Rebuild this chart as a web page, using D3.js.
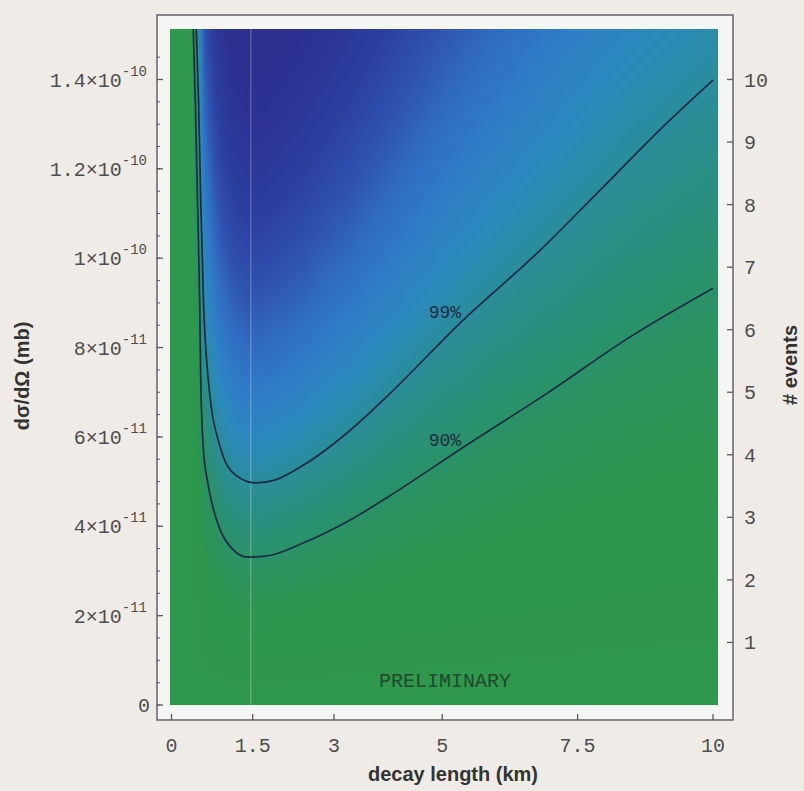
<!DOCTYPE html>
<html>
<head>
<meta charset="utf-8">
<script src="https://cdn.jsdelivr.net/npm/d3@7"></script>
<style>
  body { margin: 0; background: #efece8; }
</style>
</head>
<body>
<div id="chart"></div>
<script>
// 90% CL contour: decay length (km) -> dσ/dΩ (mb)
const cl90Length = [0.40, 0.44, 0.48, 0.52, 0.54, 0.59, 0.66, 0.78, 0.90, 1.14, 1.40, 1.73, 2.44, 3.30, 3.99, 5.39, 6.94, 8.47, 10.0];
const cl90Sigma  = [15.2e-11, 13.5e-11, 11.3e-11, 9.06e-11, 7.27e-11, 5.71e-11, 5.04e-11, 4.36e-11, 3.92e-11, 3.47e-11, 3.31e-11, 3.33e-11, 3.63e-11, 4.14e-11, 4.65e-11, 5.77e-11, 6.98e-11, 8.24e-11, 9.33e-11];

// 99% CL contour
const cl99Length = [0.455, 0.50, 0.54, 0.59, 0.68, 0.90, 1.18, 1.55, 1.92, 2.44, 3.30, 3.99, 5.39, 6.81, 7.92, 9.15, 10.0];
const cl99Sigma  = [15.2e-11, 13.5e-11, 11.3e-11, 9.06e-11, 7.27e-11, 5.77e-11, 5.15e-11, 4.97e-11, 5.04e-11, 5.37e-11, 6.15e-11, 6.92e-11, 8.62e-11, 10.18e-11, 11.53e-11, 13.03e-11, 13.99e-11];

// shading: colour against sigma / sigma90 at the same decay length
const shadeRatio  = [0, 0.6, 0.9, 1.0, 1.25, 1.5, 1.75, 2.05, 2.4, 2.8, 3.3, 4.0, 5.0];
const shadeColour = ['#2e984c', '#2d964f', '#2b935e', '#2a9268', '#2a8f80', '#2a8d9c', '#2b89bc', '#2e7ec6', '#306cc2', '#2f52b0', '#2c3e9e', '#2c3292', '#2d2e8c'];

// axes
const xTicks = [0, 1.5, 3, 5, 7.5, 10];
const xTickLabels = ['0', '1.5', '3', '5', '7.5', '10'];
const yTicks = [0, 2e-11, 4e-11, 6e-11, 8e-11, 1e-10, 1.2e-10, 1.4e-10];
const yTickMantissa = ['0', '2', '4', '6', '8', '1', '1.2', '1.4'];
const yTickExponent = ['', '-11', '-11', '-11', '-11', '-10', '-10', '-10'];
const eventTicks = [1, 2, 3, 4, 5, 6, 7, 8, 9, 10];
const sigmaPerEvent = 1.4e-11;
const markedLength = [1.5];

const contourLabels = [
  { text: '99%', length: 5.05, sigma: 8.80e-11 },
  { text: '90%', length: 5.05, sigma: 5.93e-11 }
];

const W = 804, H = 791;
const frame = { left: 157, top: 15, right: 733, bottom: 720 };
const plot = { left: 170, top: 29, right: 718, bottom: 705 };

const x = d3.scaleLinear().domain([0, 10]).range([171.5, 713]);
const y = d3.scaleLinear().domain([0, 1.4e-10]).range([705, 79.5]);
const yEvents = d3.scaleLinear().domain([0, 10]).range([y(0), y(10 * sigmaPerEvent)]);

const svg = d3.select('#chart').append('svg')
  .attr('width', W)
  .attr('height', H)
  .style('display', 'block');

svg.append('rect').attr('width', W).attr('height', H).attr('fill', '#efece8');

svg.append('rect')
  .attr('x', frame.left).attr('y', frame.top)
  .attr('width', frame.right - frame.left)
  .attr('height', frame.bottom - frame.top)
  .attr('fill', '#f5f5f3');

// density field drawn on a canvas, then put in the svg
const sigma90At = d3.scaleLinear().domain(cl90Length).range(cl90Sigma);
const shade = d3.scaleLinear().domain(shadeRatio).range(shadeColour).clamp(true);
const lutMax = 6, lutN = 1200;
const lut = d3.range(lutN + 1).map(i => d3.rgb(shade(i / lutN * lutMax)));

const pw = plot.right - plot.left, ph = plot.bottom - plot.top;
const canvas = document.createElement('canvas');
canvas.width = pw;
canvas.height = ph;
const ctx = canvas.getContext('2d');
const img = ctx.createImageData(pw, ph);
for (let i = 0; i < pw; i++) {
  const L = x.invert(plot.left + i + 0.5);
  const s90 = L < cl90Length[0] ? Infinity : sigma90At(L);
  for (let j = 0; j < ph; j++) {
    const s = y.invert(plot.top + j + 0.5);
    const r = Math.max(0, s / s90);
    const c = lut[Math.min(lutN, Math.round(r / lutMax * lutN))];
    const k = (j * pw + i) * 4;
    img.data[k] = c.r;
    img.data[k + 1] = c.g;
    img.data[k + 2] = c.b;
    img.data[k + 3] = 255;
  }
}
ctx.putImageData(img, 0, 0);

svg.append('image')
  .attr('x', plot.left).attr('y', plot.top)
  .attr('width', pw).attr('height', ph)
  .attr('preserveAspectRatio', 'none')
  .attr('href', canvas.toDataURL());

svg.append('defs').append('clipPath')
  .attr('id', 'clip')
  .append('rect')
  .attr('x', plot.left).attr('y', plot.top)
  .attr('width', pw).attr('height', ph);

const inner = svg.append('g').attr('clip-path', 'url(#clip)');

inner.selectAll('line.mark')
  .data(markedLength)
  .enter().append('line')
  .attr('class', 'mark')
  .attr('x1', d => x(d) - 2).attr('x2', d => x(d) - 2)
  .attr('y1', plot.top).attr('y2', plot.bottom)
  .attr('stroke', 'rgba(255,255,255,0.22)')
  .attr('stroke-width', 1.5);

const line = d3.line()
  .x(d => x(d[0]))
  .y(d => y(d[1]))
  .curve(d3.curveMonotoneX);

inner.selectAll('path.contour')
  .data([d3.zip(cl90Length, cl90Sigma), d3.zip(cl99Length, cl99Sigma)])
  .enter().append('path')
  .attr('class', 'contour')
  .attr('d', line)
  .attr('fill', 'none')
  .attr('stroke', '#1b2b44')
  .attr('stroke-width', 1.7);

inner.selectAll('text.clabel')
  .data(contourLabels)
  .enter().append('text')
  .attr('class', 'clabel')
  .attr('x', d => x(d.length))
  .attr('y', d => y(d.sigma) + 6)
  .attr('text-anchor', 'middle')
  .style('font-family', '"Liberation Mono", "DejaVu Sans Mono", monospace')
  .style('font-size', '18px')
  .attr('fill', '#1e2c40')
  .text(d => d.text);

inner.append('text')
  .attr('x', x(5.05))
  .attr('y', 687)
  .attr('text-anchor', 'middle')
  .style('font-family', '"Liberation Mono", "DejaVu Sans Mono", monospace')
  .style('font-size', '20px')
  .attr('fill', '#23472f')
  .text('PRELIMINARY');

// frame
svg.append('rect')
  .attr('x', frame.left).attr('y', frame.top)
  .attr('width', frame.right - frame.left)
  .attr('height', frame.bottom - frame.top)
  .attr('fill', 'none')
  .attr('stroke', '#5e5862')
  .attr('stroke-width', 1.4);

const tickColour = '#5e5862';
const monoFont = '"Liberation Mono", "DejaVu Sans Mono", monospace';

// left ticks, major + minor
const yMinor = d3.range(0, 1.5e-10, 5e-12);
svg.selectAll('line.yminor')
  .data(yMinor)
  .enter().append('line')
  .attr('x1', frame.left).attr('x2', frame.left + 3)
  .attr('y1', d => y(d)).attr('y2', d => y(d))
  .attr('stroke', tickColour).attr('stroke-width', 1);
svg.selectAll('line.ymajor')
  .data(yTicks)
  .enter().append('line')
  .attr('x1', frame.left).attr('x2', frame.left + 6)
  .attr('y1', d => y(d)).attr('y2', d => y(d))
  .attr('stroke', tickColour).attr('stroke-width', 1.3);

const yLab = svg.selectAll('text.ylab')
  .data(yTicks)
  .enter().append('text')
  .attr('class', 'ylab')
  .attr('x', (d, i) => yTickExponent[i] ? 147 : 150)
  .attr('y', d => y(d) + 7)
  .attr('text-anchor', 'end')
  .style('font-family', monoFont)
  .style('font-size', '20px')
  .attr('fill', '#4e4e4e');
yLab.append('tspan').text((d, i) => yTickExponent[i] ? yTickMantissa[i] + '×10' : yTickMantissa[i]);
yLab.filter((d, i) => yTickExponent[i])
  .append('tspan')
  .attr('dy', -11)
  .style('font-size', '14px')
  .text(d => yTickExponent[yTicks.indexOf(d)]);

// bottom ticks
svg.selectAll('line.xmajor')
  .data(xTicks)
  .enter().append('line')
  .attr('x1', d => x(d)).attr('x2', d => x(d))
  .attr('y1', frame.bottom).attr('y2', frame.bottom - 6)
  .attr('stroke', tickColour).attr('stroke-width', 1.3);

svg.selectAll('text.xlab')
  .data(xTicks)
  .enter().append('text')
  .attr('x', d => x(d))
  .attr('y', 752)
  .attr('text-anchor', 'middle')
  .style('font-family', monoFont)
  .style('font-size', '20px')
  .attr('fill', '#4e4e4e')
  .text((d, i) => xTickLabels[i]);

// right axis: number of events
svg.selectAll('line.emajor')
  .data(eventTicks)
  .enter().append('line')
  .attr('x1', frame.right).attr('x2', frame.right - 6)
  .attr('y1', d => yEvents(d)).attr('y2', d => yEvents(d))
  .attr('stroke', tickColour).attr('stroke-width', 1.3);

svg.selectAll('text.elab')
  .data(eventTicks)
  .enter().append('text')
  .attr('x', 744)
  .attr('y', d => yEvents(d) + 7)
  .style('font-family', monoFont)
  .style('font-size', '20px')
  .attr('fill', '#4e4e4e')
  .text(d => d);

// axis titles
const titleFont = '"Liberation Sans", Arial, sans-serif';
svg.append('text')
  .attr('transform', 'translate(29,376) rotate(-90)')
  .attr('text-anchor', 'middle')
  .style('font-family', titleFont)
  .style('font-size', '20px')
  .style('font-weight', 'bold')
  .attr('fill', '#333')
  .text('dσ/dΩ (mb)');

svg.append('text')
  .attr('x', 453)
  .attr('y', 781)
  .attr('text-anchor', 'middle')
  .style('font-family', titleFont)
  .style('font-size', '20px')
  .style('font-weight', 'bold')
  .attr('fill', '#333')
  .text('decay length  (km)');

svg.append('text')
  .attr('transform', 'translate(797,365) rotate(-90)')
  .attr('text-anchor', 'middle')
  .style('font-family', titleFont)
  .style('font-size', '20px')
  .style('font-weight', 'bold')
  .attr('fill', '#333')
  .text('# events');
</script>
</body>
</html>
